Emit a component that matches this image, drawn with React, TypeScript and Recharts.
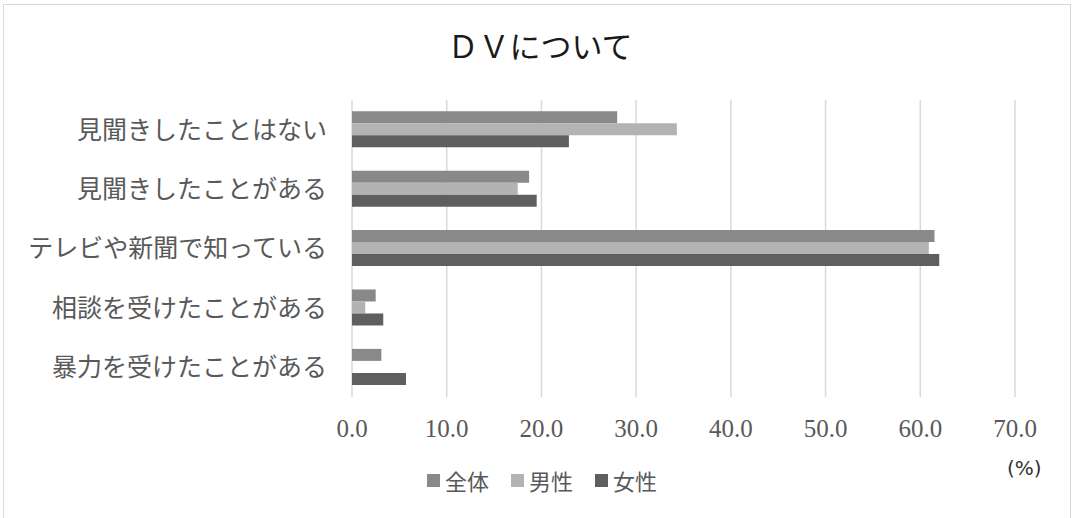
import { Bar, BarChart, CartesianGrid, Legend, XAxis, YAxis } from 'recharts'

const categories = [
  '見聞きしたことはない',
  '見聞きしたことがある',
  'テレビや新聞で知っている',
  '相談を受けたことがある',
  '暴力を受けたことがある',
]
const total = [28.0, 18.7, 61.5, 2.5, 3.1]
const male = [34.3, 17.5, 60.9, 1.4, 0]
const female = [22.9, 19.5, 62.0, 3.3, 5.7]
const xTicks = [0, 10, 20, 30, 40, 50, 60, 70]

const series = [
  { key: 'total', name: '全体', color: '#898989' },
  { key: 'male', name: '男性', color: '#b3b3b3' },
  { key: 'female', name: '女性', color: '#5f5f5f' },
]

const data = categories.map((name, i) => ({
  name,
  total: total[i],
  male: male[i],
  female: female[i],
}))

const jp = '"Noto Sans CJK JP", sans-serif'

function LegendBox() {
  return (
    <div style={{ display: 'flex', alignItems: 'center', fontFamily: jp }}>
      {series.map((s) => (
        <div key={s.key} style={{ display: 'flex', alignItems: 'center', marginRight: 22 }}>
          <span style={{ width: 13, height: 13, background: s.color, marginRight: 5 }} />
          <span style={{ fontSize: 22, color: '#595959', lineHeight: '26px' }}>{s.name}</span>
        </div>
      ))}
    </div>
  )
}

export default function App() {
  return (
    <div style={{ position: 'absolute', left: 0, top: 0, width: 1073, height: 518, background: '#fff', overflow: 'hidden' }}>
      <div style={{ position: 'absolute', left: 3, top: 4, width: 1066, height: 540, border: '1px solid #d9d9d9' }} />
      <div
        style={{
          position: 'absolute',
          left: 0,
          width: 1080,
          top: 26,
          textAlign: 'center',
          fontFamily: jp,
          fontSize: 31,
          color: '#1a1a1a',
          lineHeight: '38px',
        }}
      >
        ＤＶについて
      </div>
      <div
        style={{
          position: 'absolute',
          left: 1007,
          top: 456,
          fontFamily: '"DejaVu Sans", sans-serif',
          fontSize: 20,
          color: '#333',
        }}
      >
        (%)
      </div>
      <BarChart
        width={1073}
        height={518}
        data={data}
        layout="vertical"
        margin={{ top: 100, right: 58, left: 0, bottom: 0 }}
        barCategoryGap="19%"
        barGap={0}
        style={{ position: 'absolute', left: 0, top: 0 }}
      >
        <CartesianGrid horizontal={false} stroke="#d9d9d9" strokeWidth={1.5} />
        <XAxis
          type="number"
          domain={[0, 70]}
          ticks={xTicks}
          tickFormatter={(v: number) => v.toFixed(1)}
          axisLine={false}
          tickLine={false}
          tickSize={0}
          tickMargin={22}
          height={121}
          tick={{ fill: '#595959', fontSize: 25, fontFamily: '"Liberation Serif", serif' }}
          interval={0}
        />
        <YAxis
          type="category"
          dataKey="name"
          width={352}
          axisLine={false}
          tickLine={false}
          tickSize={0}
          tickMargin={25}
          tick={{ fill: '#595959', fontSize: 25, fontFamily: jp }}
          interval={0}
        />
        <Legend
          layout="horizontal"
          verticalAlign="middle"
          align="center"
          content={<LegendBox />}
          wrapperStyle={{ left: 427, top: 467, width: 300, height: 26 }}
        />
        {series.map((s) => (
          <Bar key={s.key} dataKey={s.key} name={s.name} fill={s.color} isAnimationActive={false} />
        ))}
      </BarChart>
    </div>
  )
}
